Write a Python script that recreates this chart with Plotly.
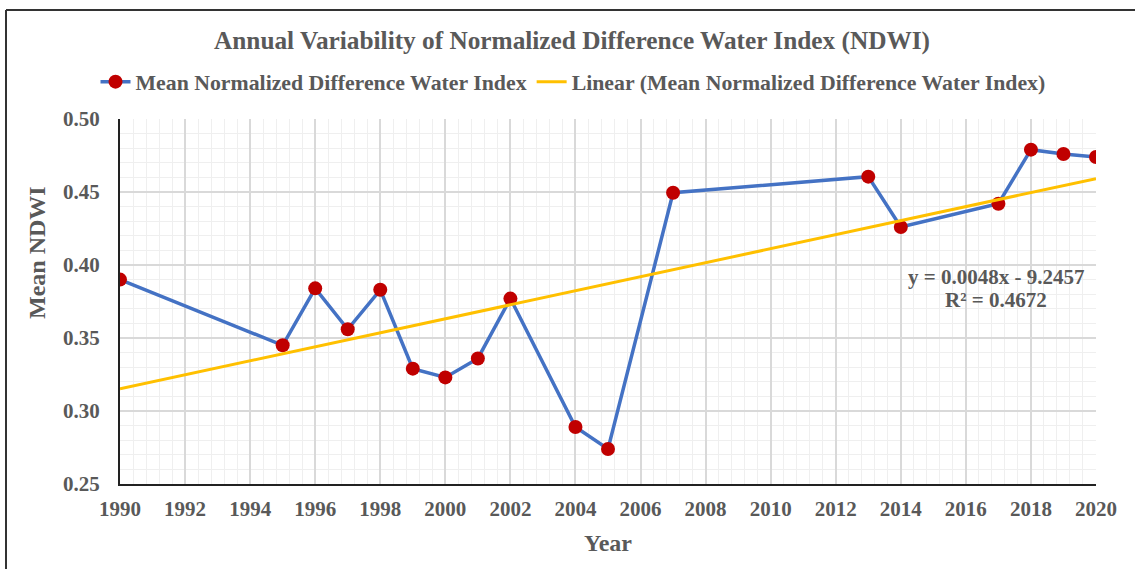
import numpy as np
import plotly.graph_objects as go

years = [1990, 1995, 1996, 1997, 1998, 1999, 2000, 2001, 2002, 2004, 2005,
         2007, 2013, 2014, 2017, 2018, 2019, 2020]
ndwi = [0.390, 0.345, 0.384, 0.356, 0.383, 0.329, 0.323, 0.336, 0.377, 0.289,
        0.274, 0.4495, 0.4605, 0.426, 0.442, 0.479, 0.476, 0.474]

x_ticks = list(range(1990, 2021, 2))
y_ticks = [0.25, 0.30, 0.35, 0.40, 0.45, 0.50]

title_text = "Annual Variability of Normalized Difference Water Index (NDWI)"
series_name = "Mean Normalized Difference Water Index"
trend_name = "Linear (Mean Normalized Difference Water Index)"
x_title = "Year"
y_title = "Mean NDWI"
eq_line1 = "y = 0.0048x - 9.2457"
eq_line2 = "R² = 0.4672"

# linear trendline fitted to the data
slope, intercept = np.polyfit(years, ndwi, 1)
trend_x = [1990, 2020]
trend_y = [slope * xv + intercept for xv in trend_x]

FONT = "Liberation Serif"
GREY = "#595959"

fig = go.Figure()
fig.add_trace(go.Scatter(
    x=years, y=ndwi, mode="lines+markers", name="<b>" + series_name + "</b>",
    line=dict(color="#4472C4", width=3.5),
    marker=dict(color="#C00000", size=14),
))
fig.add_trace(go.Scatter(
    x=trend_x, y=trend_y, mode="lines", name="<b>" + trend_name + "</b>",
    line=dict(color="#FFC000", width=3),
))

L, R, T, B = 120, 39, 119, 85
W, H = 1135, 569
pw = W - L - R
ph = H - T - B

def px2paper_x(px):
    return (px - L) / pw

def px2paper_y(py):
    return (H - B - py) / ph

fig.update_layout(
    width=W, height=H,
    margin=dict(l=L, r=R, t=T, b=B),
    paper_bgcolor="white", plot_bgcolor="white",
    font=dict(family=FONT, color=GREY),
    title=dict(text="<b>" + title_text + "</b>", x=px2paper_x(572), xref="paper",
               xanchor="center", y=1 - 40 / H, yanchor="middle",
               font=dict(size=25.3, family=FONT, color=GREY)),
    legend=dict(orientation="h", x=px2paper_x(573), xanchor="center",
                y=px2paper_y(82), yanchor="middle",
                font=dict(size=21.8, family=FONT, color=GREY),
                itemwidth=30, tracegroupgap=0, bgcolor="rgba(0,0,0,0)"),
    showlegend=True,
)

fig.update_xaxes(
    range=[1990, 2020], tickvals=x_ticks,
    ticktext=["<b>%d</b>" % v for v in x_ticks],
    tickfont=dict(size=21, family=FONT, color=GREY),
    ticklabelstandoff=5,
    showgrid=True, gridcolor="#D9D9D9", gridwidth=1.5,
    minor=dict(dtick=0.4, tick0=1990, showgrid=True, gridcolor="#EFEFEF", gridwidth=1),
    showline=True, linecolor="#222222", linewidth=2, mirror=False,
    ticks="", zeroline=False,
    title=dict(text="<b>" + x_title + "</b>", font=dict(size=24, family=FONT, color=GREY), standoff=14),
)
fig.update_yaxes(
    range=[0.25, 0.50], tickvals=y_ticks,
    ticktext=["<b>%.2f</b>" % v for v in y_ticks],
    tickfont=dict(size=21, family=FONT, color=GREY),
    ticklabelstandoff=14,
    showgrid=True, gridcolor="#D9D9D9", gridwidth=1.5,
    minor=dict(dtick=0.01, tick0=0.25, showgrid=True, gridcolor="#EFEFEF", gridwidth=1),
    showline=True, linecolor="#222222", linewidth=2,
    ticks="", zeroline=False,
)

# y-axis title (placed above centre, as in the reference)
fig.add_annotation(
    text="<b>" + y_title + "</b>", xref="paper", yref="paper",
    x=px2paper_x(37), y=px2paper_y(253), xanchor="center", yanchor="middle",
    textangle=-90, showarrow=False, font=dict(size=24, family=FONT, color=GREY),
)

# equation annotation (two lines)
fig.add_annotation(
    text="<b>" + eq_line1 + "</b>", xref="paper", yref="paper",
    x=px2paper_x(996), y=px2paper_y(277), xanchor="center", yanchor="middle",
    showarrow=False, font=dict(size=21, family=FONT, color=GREY),
)
fig.add_annotation(
    text="<b>" + eq_line2 + "</b>", xref="paper", yref="paper",
    x=px2paper_x(996), y=px2paper_y(300), xanchor="center", yanchor="middle",
    showarrow=False, font=dict(size=21, family=FONT, color=GREY),
)

# outer frame lines (top and left)
fig.add_shape(type="line", xref="paper", yref="paper",
              x0=px2paper_x(6), x1=px2paper_x(W + 5), y0=px2paper_y(10), y1=px2paper_y(10),
              line=dict(color="#333333", width=2))
fig.add_shape(type="line", xref="paper", yref="paper",
              x0=px2paper_x(6), x1=px2paper_x(6), y0=px2paper_y(10), y1=px2paper_y(H + 5),
              line=dict(color="#333333", width=2))

fig.write_html("out.html", config={"displayModeBar": False},
               post_script="document.body.style.margin='0px';")
